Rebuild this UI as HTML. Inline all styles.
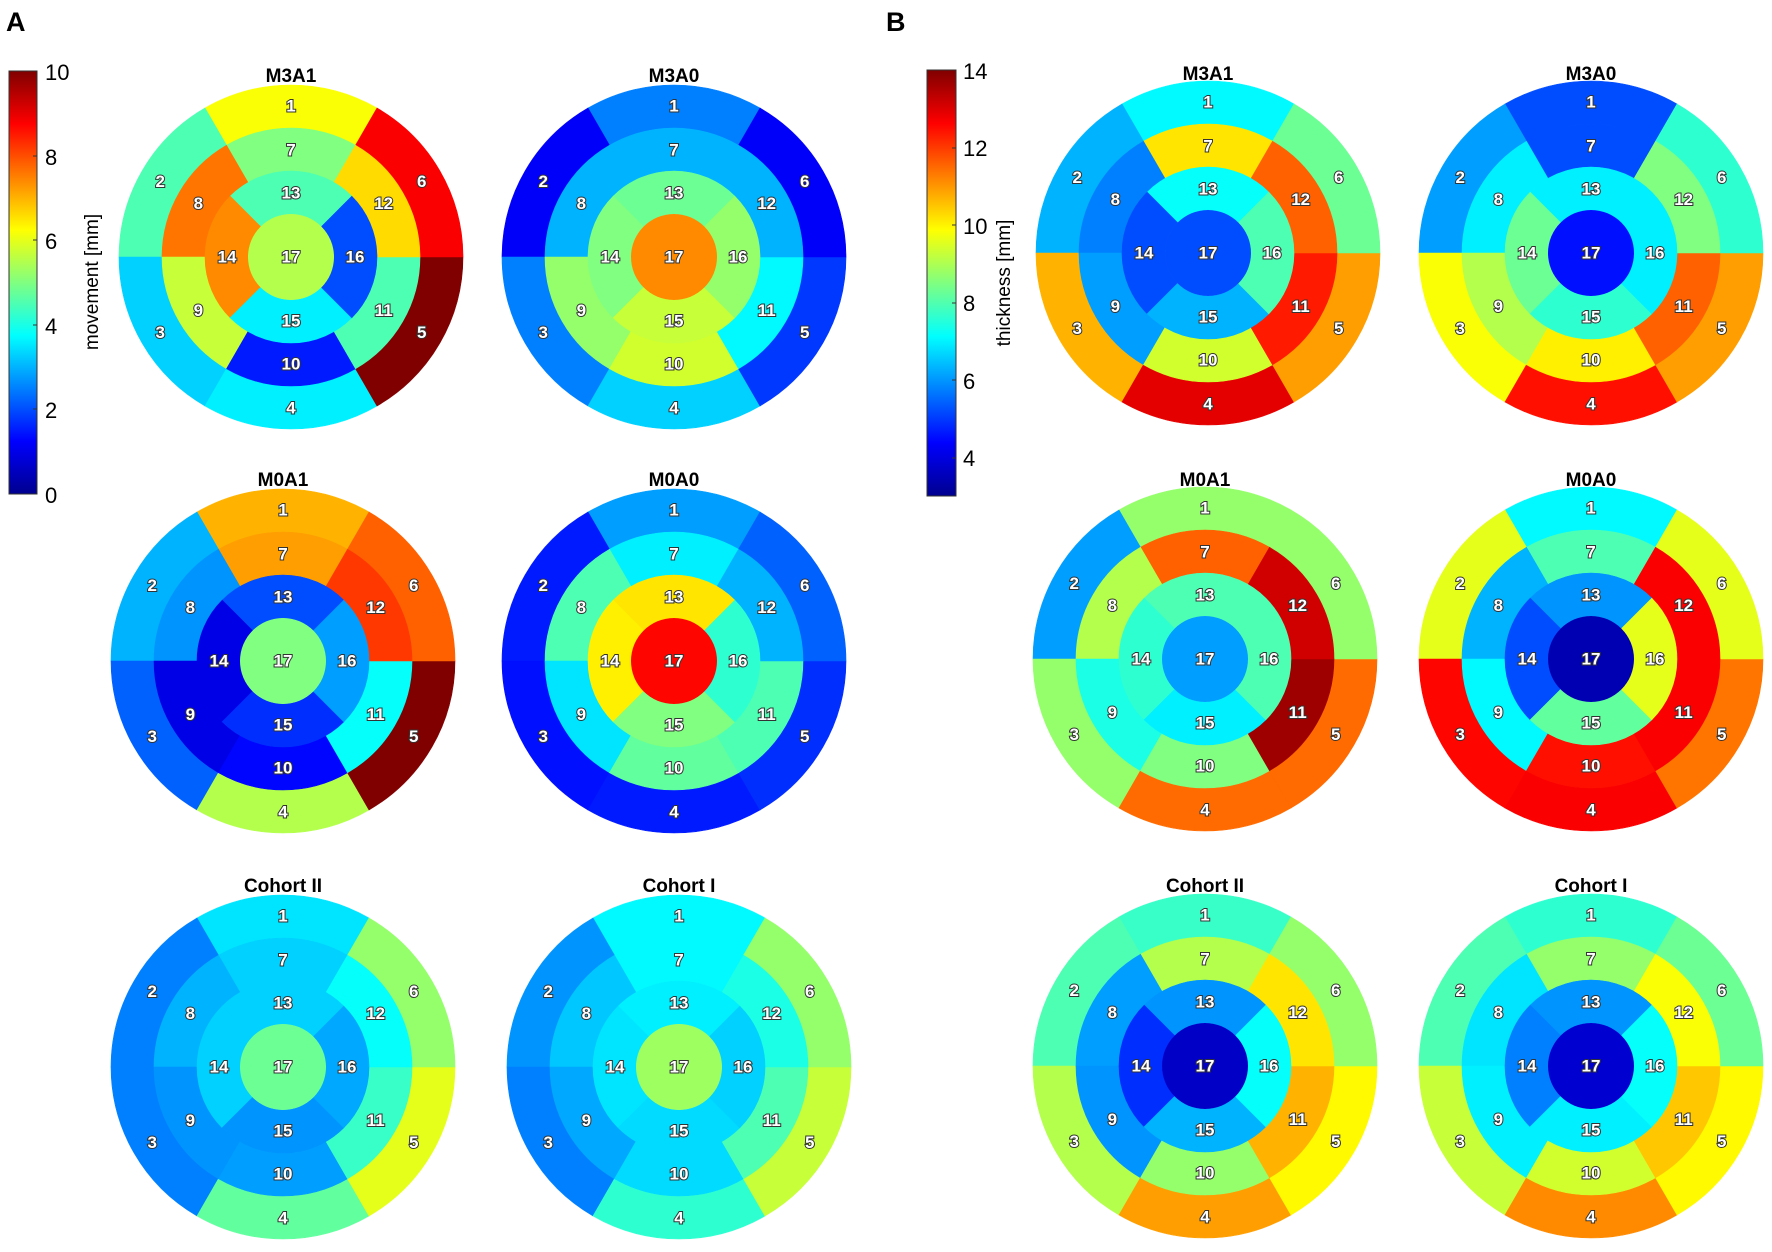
<!DOCTYPE html>
<html><head><meta charset="utf-8"><style>
html,body{margin:0;padding:0;background:#fff;}
svg{display:block;font-family:"Liberation Sans",Arial,sans-serif;}
.t{font-weight:bold;font-size:19px;text-anchor:middle;}
.tk{font-size:22px;}
.lb{font-weight:bold;font-size:17px;fill:#fff;text-anchor:middle;dominant-baseline:central;paint-order:stroke;stroke:#333;stroke-width:2px;}
</style></head><body>
<svg id="s" width="1772" height="1252" viewBox="0 0 1772 1252" xmlns="http://www.w3.org/2000/svg">
<defs>
<linearGradient id="jet" x1="0" y1="1" x2="0" y2="0">
<stop offset="0" stop-color="#00008f"/><stop offset="0.125" stop-color="#0000ff"/>
<stop offset="0.375" stop-color="#00ffff"/><stop offset="0.5" stop-color="#80ff80"/>
<stop offset="0.625" stop-color="#ffff00"/><stop offset="0.875" stop-color="#ff0000"/>
<stop offset="1" stop-color="#800000"/>
</linearGradient>
</defs>
<text x="6" y="31" font-weight="bold" font-size="27">A</text>
<text x="886" y="31" font-weight="bold" font-size="27">B</text>
<rect x="9" y="71" width="28" height="423" fill="url(#jet)" stroke="#333" stroke-width="1"/>
<g class="tk"><text x="45" y="80">10</text><text x="45" y="165">8</text><text x="45" y="249">6</text><text x="45" y="334">4</text><text x="45" y="418">2</text><text x="45" y="503">0</text></g>
<g stroke="#333"><line x1="33" y1="156" x2="37" y2="156"/><line x1="33" y1="240" x2="37" y2="240"/><line x1="33" y1="325" x2="37" y2="325"/><line x1="33" y1="409" x2="37" y2="409"/></g>
<text transform="translate(98,282) rotate(-90)" font-size="19" text-anchor="middle">movement [mm]</text>
<rect x="927" y="70" width="29" height="426" fill="url(#jet)" stroke="#333" stroke-width="1"/>
<g class="tk"><text x="963" y="79">14</text><text x="963" y="156">12</text><text x="963" y="234">10</text><text x="963" y="311">8</text><text x="963" y="389">6</text><text x="963" y="466">4</text></g>
<g stroke="#333"><line x1="952" y1="148" x2="956" y2="148"/><line x1="952" y1="225" x2="956" y2="225"/><line x1="952" y1="303" x2="956" y2="303"/><line x1="952" y1="380" x2="956" y2="380"/><line x1="952" y1="458" x2="956" y2="458"/></g>
<text transform="translate(1010,283) rotate(-90)" font-size="19" text-anchor="middle">thickness [mm]</text>
<g id="plots"></g>
<text class="t" x="291" y="82">M3A1</text>
<text class="t" x="674" y="82">M3A0</text>
<text class="t" x="283" y="486">M0A1</text>
<text class="t" x="674" y="486">M0A0</text>
<text class="t" x="283" y="892">Cohort II</text>
<text class="t" x="679" y="892">Cohort I</text>
<text class="t" x="1208" y="80">M3A1</text>
<text class="t" x="1591" y="80">M3A0</text>
<text class="t" x="1205" y="486">M0A1</text>
<text class="t" x="1591" y="486">M0A0</text>
<text class="t" x="1205" y="892">Cohort II</text>
<text class="t" x="1591" y="892">Cohort I</text>
</svg>
<script>
function jet(v){function c(x){return Math.max(0,Math.min(1,x));}
var r=c(1.5-Math.abs(4*v-3)),g=c(1.5-Math.abs(4*v-2)),b=c(1.5-Math.abs(4*v-1));
return "rgb("+Math.round(r*255)+","+Math.round(g*255)+","+Math.round(b*255)+")";}
var P=[
[291,257,[.62,.45,.33,.36,1.0,.88,.5,.76,.57,.15,.45,.66,.45,.74,.36,.2,.55]],
[674,257,[.25,.12,.25,.33,.18,.12,.3,.3,.52,.58,.37,.3,.48,.5,.57,.52,.74]],
[283,661,[.7,.3,.22,.55,1.0,.78,.72,.27,.1,.13,.38,.82,.2,.1,.17,.28,.5]],
[674,661,[.28,.15,.14,.15,.17,.22,.36,.45,.35,.47,.45,.3,.65,.64,.5,.42,.87]],
[283,1067,[.35,.25,.25,.47,.6,.52,.33,.3,.27,.28,.43,.38,.33,.33,.27,.29,.48]],
[679,1067,[.37,.27,.25,.42,.57,.52,.37,.32,.29,.34,.45,.4,.36,.35,.34,.33,.53]],
[1208,253,[.37,.3,.7,.9,.72,.48,.65,.25,.28,.58,.85,.78,.38,.2,.3,.45,.2]],
[1591,253,[.2,.28,.62,.86,.72,.42,.2,.36,.55,.64,.78,.5,.36,.48,.42,.36,.14]],
[1205,659,[.52,.28,.52,.77,.77,.52,.78,.55,.4,.5,.97,.92,.45,.42,.36,.45,.28]],
[1591,659,[.37,.6,.87,.88,.76,.6,.45,.3,.37,.86,.88,.88,.27,.2,.47,.6,.05]],
[1205,1066,[.43,.45,.55,.72,.63,.52,.55,.28,.27,.52,.7,.65,.27,.17,.3,.38,.07]],
[1591,1066,[.42,.45,.57,.74,.63,.48,.52,.35,.36,.58,.68,.62,.27,.25,.36,.38,.08]]];
var R=[43,86,129,172],NS="http://www.w3.org/2000/svg",G=document.getElementById("plots");
function el(n,a){var e=document.createElementNS(NS,n);for(var k in a)e.setAttribute(k,a[k]);G.appendChild(e);return e;}
function pt(cx,cy,r,a){a=a*Math.PI/180;return [cx+r*Math.cos(a),cy-r*Math.sin(a)];}
function sector(cx,cy,r0,r1,a0,a1,col){var p1=pt(cx,cy,r1,a0),p2=pt(cx,cy,r1,a1),p3=pt(cx,cy,r0,a1),p4=pt(cx,cy,r0,a0);
el("path",{d:"M"+p1+"A"+r1+","+r1+" 0 0 0 "+p2+"L"+p3+"A"+r0+","+r0+" 0 0 1 "+p4+"Z",fill:col,stroke:col,"stroke-width":0.6});}
var labs=[];
P.forEach(function(p){var cx=p[0],cy=p[1],v=p[2];
 var basal=[[60,120],[120,180],[180,240],[240,300],[300,360],[0,60]];
 for(var i=0;i<6;i++){var a=basal[i];sector(cx,cy,R[2],R[3],a[0],a[1],jet(v[i]));labs.push([pt(cx,cy,151,(a[0]+a[1])/2),i+1]);}
 for(var i=0;i<6;i++){var a=basal[i];sector(cx,cy,R[1],R[2],a[0],a[1],jet(v[i+6]));labs.push([pt(cx,cy,107,(a[0]+a[1])/2),i+7]);}
 var ap=[[45,135],[135,225],[225,315],[315,405]];
 for(var i=0;i<4;i++){var a=ap[i];sector(cx,cy,R[0],R[1],a[0],a[1],jet(v[i+12]));labs.push([pt(cx,cy,64,(a[0]+a[1])/2),i+13]);}
 el("circle",{cx:cx,cy:cy,r:R[0],fill:jet(v[16])});labs.push([[cx,cy],17]);
});
labs.forEach(function(l){var t=el("text",{x:l[0][0],y:l[0][1],"class":"lb"});t.textContent=l[1];});
</script>
</body></html>
